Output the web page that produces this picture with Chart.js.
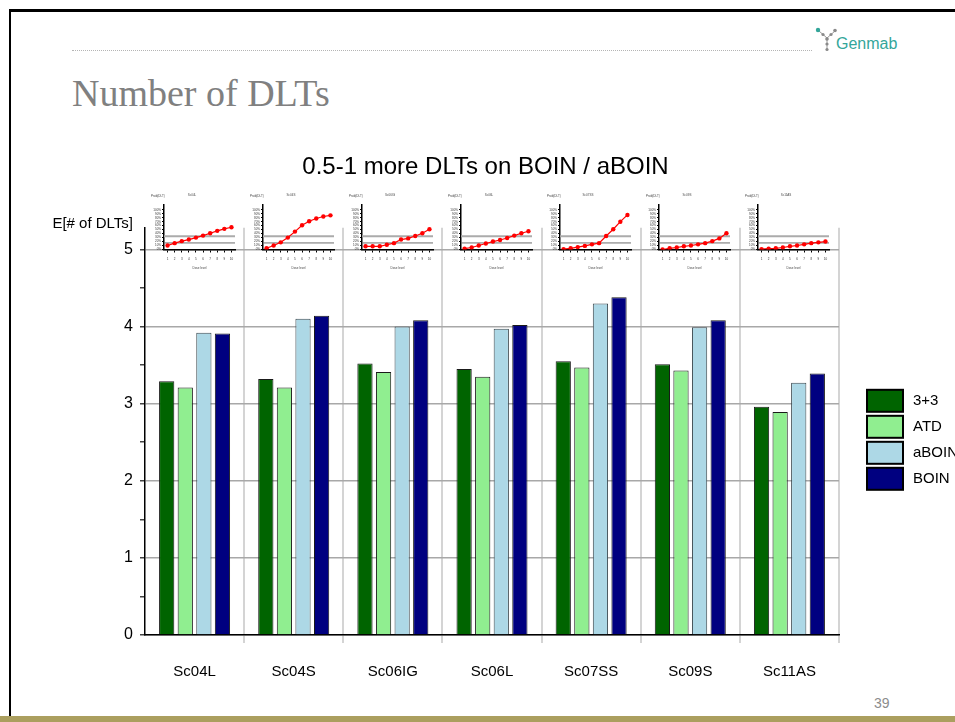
<!DOCTYPE html>
<html>
<head>
<meta charset="utf-8">
<script src="https://cdn.jsdelivr.net/npm/chart.js@4.4.1/dist/chart.umd.min.js"></script>
<style>
  html, body { margin: 0; padding: 0; background: #fff; }
  body { width: 955px; height: 722px; position: relative; overflow: hidden;
         font-family: "Liberation Sans", Arial, sans-serif; }
  #frameTop  { position: absolute; left: 9px; top: 9px; width: 946px; height: 3px; background: #000; }
  #frameLeft { position: absolute; left: 9px; top: 9px; width: 2px; height: 708px; background: #000; }
  #band      { position: absolute; left: 0; top: 716px; width: 955px; height: 6px; background: #ab9f5f; }
  #rule      { position: absolute; left: 72px; top: 50px; width: 740px; border-top: 1px dotted #b5b5b5; }
  #heading   { position: absolute; left: 72px; top: 74px; font-family: "Liberation Serif", serif;
               font-size: 38px; line-height: 38px; color: #808080; white-space: nowrap; }
  #logo      { position: absolute; left: 814px; top: 26px; }
  #logoText  { position: absolute; left: 836px; top: 36px; font-size: 16px; line-height: 16px; color: #33a69a; }
  #page      { position: absolute; left: 874px; top: 695px; font-size: 14px; line-height: 16px; color: #8c8c8c; }
  #main      { position: absolute; left: 16px; top: 140px; }
  .inset     { position: absolute; }
</style>
</head>
<body>
<div id="frameTop"></div>
<div id="frameLeft"></div>
<div id="band"></div>
<div id="rule"></div>
<svg id="logo" width="24" height="28" viewBox="0 0 24 28">
  <line x1="5" y1="5" x2="13" y2="12" stroke="#9a9a9a" stroke-width="1"/>
  <line x1="21" y1="5" x2="13" y2="12" stroke="#9a9a9a" stroke-width="1"/>
  <line x1="13" y1="12" x2="13" y2="24" stroke="#9a9a9a" stroke-width="1"/>
  <circle cx="4" cy="4" r="2.2" fill="#33a69a"/>
  <circle cx="9" cy="8.5" r="1.6" fill="#8a8a8a"/>
  <circle cx="21" cy="4.5" r="1.8" fill="#8a8a8a"/>
  <circle cx="17" cy="8.5" r="1.6" fill="#8a8a8a"/>
  <circle cx="13" cy="13" r="1.8" fill="#8a8a8a"/>
  <circle cx="13" cy="18" r="1.6" fill="#8a8a8a"/>
  <circle cx="13" cy="23.5" r="1.6" fill="#8a8a8a"/>
</svg>
<div id="logoText">Genmab</div>
<div id="heading">Number of DLTs</div>
<div id="page">39</div>
<canvas id="main" width="939" height="560"></canvas>

<script>
// Scenarios on the x axis
const scenarios = ['Sc04L', 'Sc04S', 'Sc06IG', 'Sc06L', 'Sc07SS', 'Sc09S', 'Sc11AS'];

// Expected number of DLTs per design
const threePlusThree = [3.29, 3.32, 3.52, 3.45, 3.55, 3.51, 2.96];
const atd            = [3.21, 3.21, 3.41, 3.35, 3.47, 3.43, 2.89];
const aboin          = [3.92, 4.10, 4.00, 3.97, 4.30, 3.99, 3.27];
const boin           = [3.91, 4.14, 4.08, 4.02, 4.38, 4.08, 3.39];

// Main y-axis tick labels
const yTickLabels = [0, 1, 2, 3, 4, 5];

// Dose-toxicity curves shown above each scenario: P(DLT) at dose levels 1..10
const doseLevels = [1, 2, 3, 4, 5, 6, 7, 8, 9, 10];
const probTicks  = [0, 0.1, 0.2, 0.3, 0.4, 0.5, 0.6, 0.7, 0.8, 0.9, 1.0];
const probTickLabels = ['0%', '10%', '20%', '30%', '40%', '50%', '60%', '70%', '80%', '90%', '100%'];
const targetBand = [0.165, 0.335];
const curveSc04L  = [0.10, 0.16, 0.21, 0.25, 0.30, 0.35, 0.41, 0.47, 0.52, 0.56];
const curveSc04S  = [0.03, 0.10, 0.18, 0.30, 0.45, 0.61, 0.71, 0.78, 0.83, 0.86];
const curveSc06IG = [0.08, 0.08, 0.08, 0.12, 0.16, 0.25, 0.28, 0.34, 0.41, 0.51];
const curveSc06L  = [0.02, 0.05, 0.10, 0.15, 0.20, 0.24, 0.29, 0.35, 0.41, 0.46];
const curveSc07SS = [0.01, 0.03, 0.06, 0.09, 0.13, 0.16, 0.34, 0.51, 0.70, 0.87];
const curveSc09S  = [0.00, 0.03, 0.05, 0.08, 0.10, 0.13, 0.16, 0.21, 0.28, 0.41];
const curveSc11AS = [0.01, 0.02, 0.03, 0.05, 0.08, 0.10, 0.13, 0.16, 0.18, 0.20];
const curves = [curveSc04L, curveSc04S, curveSc06IG, curveSc06L, curveSc07SS, curveSc09S, curveSc11AS];

Chart.defaults.font.family = '"Liberation Sans", Arial, sans-serif';
Chart.defaults.color = '#000';

// Legend boxes stacked to the right of the plot, plus the horizontal y-axis caption
const sideLegend = {
  id: 'sideLegend',
  afterDraw(chart) {
    const { ctx, chartArea } = chart;
    ctx.save();
    ctx.font = '15px "Liberation Sans", Arial, sans-serif';
    ctx.textBaseline = 'middle';
    ctx.textAlign = 'right';
    ctx.fillStyle = '#000';
    ctx.fillText('E[# of DLTs]', chartArea.left - 12, chartArea.top - 4);
    ctx.textAlign = 'left';
    const x0 = chartArea.right + 28, y0 = chartArea.top + 162;
    chart.data.datasets.forEach((ds, i) => {
      const y = y0 + i * 26;
      ctx.fillStyle = ds.backgroundColor;
      ctx.fillRect(x0, y, 36, 22);
      ctx.strokeStyle = '#000';
      ctx.lineWidth = 2;
      ctx.strokeRect(x0, y, 36, 22);
      ctx.fillStyle = '#000';
      ctx.fillText(ds.label, x0 + 46, y + 11);
    });
    ctx.restore();
  }
};

const barStyle = { borderWidth: 1, borderColor: '#1a1a1a', barPercentage: 0.82, categoryPercentage: 0.75 };

const main = new Chart(document.getElementById('main'), {
  type: 'bar',
  data: {
    labels: scenarios,
    datasets: [
      { label: '3+3',   data: threePlusThree, backgroundColor: '#006400', ...barStyle },
      { label: 'ATD',   data: atd,            backgroundColor: '#90ee90', ...barStyle },
      { label: 'aBOIN', data: aboin,          backgroundColor: '#add8e6', ...barStyle, borderColor: '#3c4a50' },
      { label: 'BOIN',  data: boin,           backgroundColor: '#000080', ...barStyle }
    ]
  },
  plugins: [sideLegend],
  options: {
    responsive: false,
    devicePixelRatio: 1,
    animation: false,
    layout: { padding: 0 },
    plugins: {
      legend: { display: false },
      tooltip: { enabled: false },
      title: {
        display: true,
        text: '0.5-1 more DLTs on BOIN / aBOIN',
        font: { size: 24, weight: 'normal' },
        color: '#000',
        padding: { top: 13, bottom: 46 }
      }
    },
    scales: {
      x: {
        grid: {
          offset: true,
          color: ctx => (ctx.index === 0 || ctx.index === scenarios.length) ? 'rgba(0,0,0,0)' : '#d4d4d4',
          lineWidth: 2,
          tickLength: 8
        },
        border: { color: '#000', width: 1.5 },
        ticks: { font: { size: 15 }, color: '#000', padding: 20, maxRotation: 0 },
        afterFit(s) { s.height = 65; }
      },
      y: {
        min: 0,
        max: 5.28,
        ticks: {
          stepSize: 0.5,
          includeBounds: false,
          font: { size: 16 },
          color: '#000',
          padding: 7,
          callback: v => (yTickLabels.includes(v) ? String(v) : '')
        },
        grid: {
          color: ctx => (ctx.tick && yTickLabels.includes(ctx.tick.value)) ? '#a8a8a8' : 'rgba(0,0,0,0)',
          lineWidth: 1.5,
          tickColor: '#444',
          tickLength: 5
        },
        border: { color: '#000', width: 1.5 },
        afterFit(s) { s.width = 129; }
      },
      yRight: {
        position: 'right',
        display: true,
        grid: { display: false },
        border: { display: false },
        ticks: { display: false },
        afterFit(s) { s.width = 116; }
      }
    }
  }
});

// Small P(DLT) curve above each scenario
const insetLabels = {
  id: 'insetLabels',
  afterDraw(chart) {
    const { ctx } = chart;
    ctx.save();
    ctx.font = '3px "Liberation Sans", Arial, sans-serif';
    ctx.fillStyle = '#444';
    ctx.textBaseline = 'middle';
    ctx.fillText('Prob(DLT)', 2, 6);
    ctx.restore();
  }
};

const mainCanvas = document.getElementById('main');
const mainLeft = mainCanvas.offsetLeft;
scenarios.forEach((name, i) => {
  const center = mainLeft + main.scales.x.getPixelForValue(i);
  const axisX = Math.round(center - 31);
  const cv = document.createElement('canvas');
  cv.className = 'inset';
  cv.width = 92;
  cv.height = 85;
  cv.style.left = (axisX - 15) + 'px';
  cv.style.top = '190px';
  document.body.appendChild(cv);

  new Chart(cv, {
    type: 'line',
    data: {
      datasets: [
        {
          data: curves[i].map((p, k) => ({ x: doseLevels[k], y: p })),
          borderColor: '#ff0000', borderWidth: 1.2,
          pointRadius: 2.2, pointBackgroundColor: '#ff0000', pointBorderWidth: 0
        },
        {
          data: [{ x: 0.5, y: targetBand[0] }, { x: 10.5, y: targetBand[0] }],
          borderColor: '#6e6e6e', borderWidth: 1, pointRadius: 0
        },
        {
          data: [{ x: 0.5, y: targetBand[1] }, { x: 10.5, y: targetBand[1] }],
          borderColor: '#ababab', borderWidth: 2, pointRadius: 0
        }
      ]
    },
    plugins: [insetLabels],
    options: {
      responsive: false,
      devicePixelRatio: 1,
      animation: false,
      layout: { padding: { left: 0, right: 6, top: 0, bottom: 0 } },
      plugins: {
        legend: { display: false },
        tooltip: { enabled: false },
        title: {
          display: true, text: name,
          font: { size: 3, weight: 'normal' }, color: '#444',
          padding: { top: 3.2, bottom: 8.2 }
        }
      },
      scales: {
        x: {
          type: 'linear', min: 0.5, max: 10.5,
          afterBuildTicks(s) { s.ticks = doseLevels.map(v => ({ value: v })); },
          ticks: { font: { size: 3 }, color: '#333', padding: 5, maxRotation: 0, autoSkip: false },
          grid: { drawOnChartArea: false, color: '#000', tickColor: '#000', tickLength: 3 },
          border: { color: '#000', width: 1.5 },
          title: { display: true, text: 'Dose level', font: { size: 3 }, color: '#444', padding: { top: 0, bottom: 5 } },
          afterFit(s) { s.height = 25.5; }
        },
        y: {
          min: 0, max: 1.12,
          afterBuildTicks(s) { s.ticks = probTicks.map(v => ({ value: v })); },
          ticks: {
            font: { size: 3 }, color: '#333', padding: 1, autoSkip: false,
            callback: (v, k) => probTickLabels[k]
          },
          grid: { drawOnChartArea: false, color: '#000', tickColor: '#000', tickLength: 2 },
          border: { color: '#000', width: 1.5 },
          afterFit(s) { s.width = 15; }
        }
      }
    }
  });
});
</script>
</body>
</html>
